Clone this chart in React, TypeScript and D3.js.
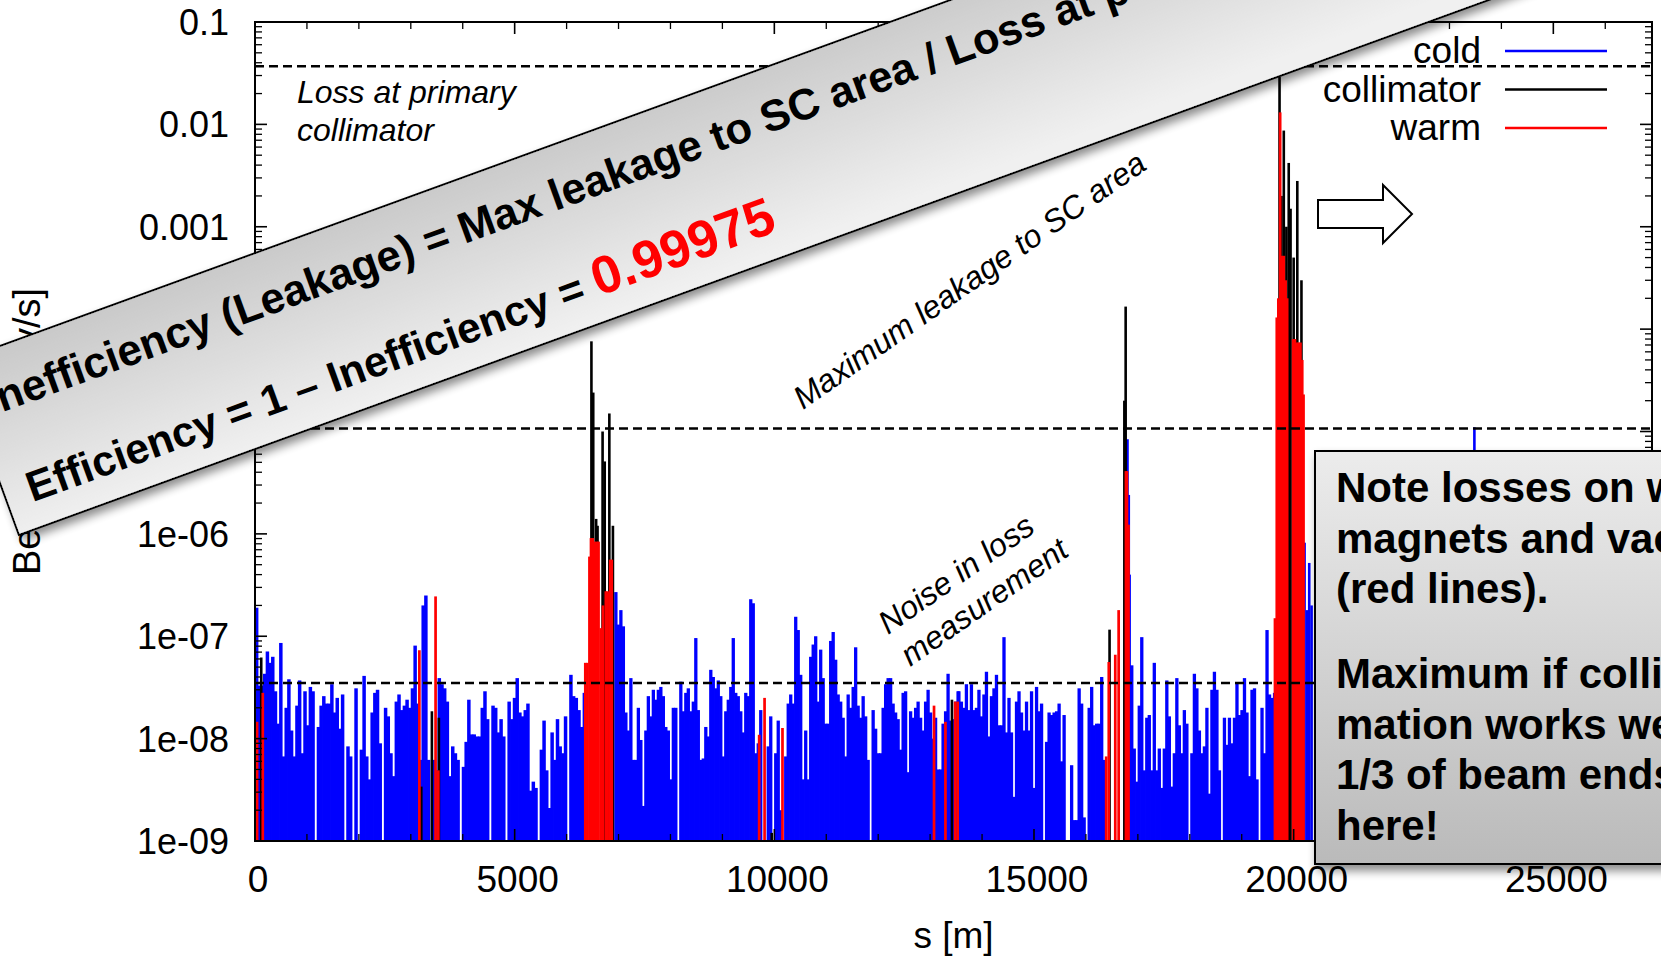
import React from 'react';
import * as d3 from 'd3';

// ---------------- data ----------------
const X_DOMAIN: [number, number] = [0, 26900];
const Y_DOMAIN: [number, number] = [1e-9, 0.1];
const xTickValues = [0, 5000, 10000, 15000, 20000, 25000];
const yTickValues = [1e-9, 1e-8, 1e-7, 1e-6, 1e-5, 1e-4, 1e-3, 1e-2, 1e-1];
const yTickLabels = ['1e-09', '1e-08', '1e-07', '1e-06', '1e-05', '0.0001', '0.001', '0.01', '0.1'];

// cold (blue) BLM signal, regularly sampled segments between the cleaning insertions
const coldWestRange: [number, number] = [32, 6342];
const coldWest = [
  1.9e-7, 3.3e-8, 3.3e-8, 4.3e-8, 7.1e-8, 5.5e-8, 6.3e-8, 2.9e-8, 1.4e-8, 8.6e-8,
  6.7e-9, 2.0e-8, 3.8e-8, 1.2e-8, 6.7e-9, 2.1e-8, 3.7e-8, 7.2e-9, 2.9e-8, 1.35e-8,
  3.2e-8, 2.9e-8, 1e-9, 1.3e-8, 2.1e-8, 2.6e-8, 2.2e-8, 2.2e-8, 3.4e-8, 1.8e-8,
  2.5e-8, 1.25e-8, 2.7e-8, 1e-9, 8.4e-9, 6.7e-9, 1e-9, 3.1e-8, 1e-9, 7.8e-9,
  4.1e-8, 6.7e-9, 4.0e-9, 1.8e-8, 2.8e-8, 3.0e-8, 9e-9, 1e-9, 2.0e-8, 1.65e-8,
  7.2e-9, 4.3e-9, 2.3e-8, 2.7e-8, 1.9e-8, 2.1e-8, 2.4e-8, 2.0e-8, 3.1e-8, 8.1e-8,
  2.2e-8, 6.2e-9, 2.0e-7, 2.5e-7, 6.2e-9, 1e-9, 6.2e-9, 4.9e-9, 3.9e-8, 3.4e-8,
  3.1e-8, 2.3e-8, 4.3e-9, 8.4e-9, 7.2e-9, 6.2e-9, 1e-9, 5.3e-9, 9.3e-9, 2.4e-8,
  1.1e-8, 1.1e-8, 1.05e-8, 1.05e-8, 2.0e-8, 2.9e-8, 1.55e-8, 1e-9, 2.1e-8, 2.0e-8,
  1.15e-8, 1.55e-8, 1.05e-8, 1e-9, 2.3e-8, 1.55e-8, 2.5e-8, 3.9e-8, 1.8e-8, 1.65e-8,
  1.9e-8, 2.2e-8, 3.1e-9, 3.8e-9, 3.3e-9, 1e-9, 7.8e-9, 1.5e-8, 4.9e-9, 2.1e-9,
  1.15e-8, 6.2e-9, 1.55e-8, 8.4e-9, 7.2e-9, 1.65e-8, 1e-9, 4.2e-8, 2.6e-8, 2.5e-8,
  1.9e-8, 1.3e-8, 2.8e-8,
];
const coldMidRange: [number, number] = [6949, 13538];
const coldMid = [
  2.7e-7, 1.3e-7, 1.8e-7, 1.25e-7, 1.8e-8, 1.2e-8, 3.9e-8, 6.2e-9, 6.2e-9, 2.0e-8,
  9.7e-9, 2.2e-9, 1.2e-8, 2.6e-8, 1.65e-8, 3.0e-8, 2.4e-8, 3.0e-8, 3.2e-8, 2.6e-8,
  1.3e-8, 1.2e-8, 4.0e-9, 2.0e-8, 2.0e-8, 1e-9, 3.6e-8, 1.85e-8, 2.8e-8, 3.1e-8,
  1.85e-8, 2.3e-8, 9.6e-8, 1.9e-8, 6.2e-9, 6.4e-9, 1.3e-8, 1.05e-8, 4.7e-8, 4.0e-8,
  3.1e-8, 3.7e-8, 2.6e-8, 6.7e-9, 1.85e-8, 2.4e-8, 3.2e-8, 9.6e-8, 2.8e-8, 2.6e-8,
  1.85e-8, 1.15e-8, 2.8e-8, 2.6e-8, 2.3e-7, 2.1e-7, 7.2e-9, 9e-9, 1.9e-8, 1e-9,
  1e-9, 8.4e-9, 1.65e-8, 1e-9, 7.2e-9, 1.5e-8, 2.0e-9, 1e-9, 6.7e-9, 2.2e-8,
  2.7e-8, 2.2e-8, 1.55e-7, 1.15e-7, 4.2e-8, 4.0e-9, 1.2e-8, 4.0e-9, 6.3e-8, 8.3e-8,
  1.0e-7, 2.3e-8, 7.4e-8, 3.9e-8, 1.4e-8, 1.4e-8, 9e-8, 1.1e-7, 5.9e-8, 2.7e-8,
  2.3e-8, 1.6e-8, 6.7e-9, 2.7e-8, 2.0e-8, 3.2e-8, 7.8e-8, 2.1e-8, 1.6e-8, 2.6e-8,
  1.65e-8, 6.2e-9, 1e-9, 1.9e-8, 1.25e-8, 7.2e-9, 7.2e-9, 2.0e-8, 3.4e-8, 3.9e-8,
  3.9e-8, 2.2e-8, 1.8e-8, 1.55e-8, 7.8e-9, 2.8e-8, 2.9e-8, 4.7e-9, 1.85e-8, 1.6e-8,
  2.0e-8, 2.3e-8, 1.6e-8, 1.2e-8, 2.3e-8, 3.0e-8, 1.8e-8, 1.0e-8, 1.6e-8, 5e-9,
  5e-9, 1.4e-8, 1.85e-8, 4.3e-8, 1.5e-8, 1.55e-8, 2.3e-8, 2.9e-8,
];
const coldEastRange: [number, number] = [13554, 19632];
const coldEast = [
  2.9e-8, 2.3e-8, 2.0e-8, 3.4e-8, 1.9e-8, 3.4e-8, 1.9e-8, 2.0e-8, 3.0e-8, 1.65e-8,
  2.7e-8, 4.5e-8, 1.05e-8, 2.6e-8, 3.1e-8, 4.2e-8, 1.35e-8, 1.35e-8, 9.8e-8, 1.15e-8,
  2.5e-8, 1.15e-8, 2.7e-9, 2.3e-8, 2.9e-8, 1.8e-8, 1.2e-8, 2.3e-8, 1.2e-8, 2.9e-8,
  3.3e-9, 3.2e-8, 1.85e-8, 2.2e-8, 1e-9, 9.3e-9, 1.8e-8, 1.7e-8, 1.8e-8, 1.85e-8,
  2.2e-8, 6e-9, 1.7e-8, 1e-9, 1e-9, 5.5e-9, 1.6e-9, 1.6e-9, 3.1e-8, 2.2e-8,
  1.7e-9, 1e-9, 2.0e-8, 3.2e-8, 1.35e-8, 1.4e-8, 1.4e-8, 4.0e-8, 6.2e-9, 1e-9,
  1e-9, 1e-9, 1e-9, 1e-9, 1e-9, 1e-9, 1e-9, 1e-9, 4e-7, 5.2e-8,
  8e-9, 3.8e-9, 2.1e-8, 9.8e-8, 4.9e-9, 1.6e-8, 1.7e-8, 4.9e-9, 5.5e-8, 4.9e-9,
  8e-9, 3.3e-9, 8e-9, 3.7e-8, 1.65e-8, 3.4e-9, 7.2e-9, 3.9e-8, 1.35e-8, 7.2e-9,
  1.9e-8, 1.4e-8, 1e-9, 7.2e-9, 4.3e-8, 3.1e-8, 1.2e-8, 7.2e-9, 8.4e-9, 2.0e-8,
  2.9e-9, 3.0e-8, 4.5e-8, 3.0e-8, 4.9e-9, 1e-9, 1.6e-8, 8.7e-9, 1.6e-8, 9e-9,
  1.6e-8, 3.5e-8, 1.7e-8, 1.9e-8, 3.9e-8, 1.8e-8, 4.3e-9, 3.0e-8, 3.1e-8, 4e-9,
  1e-9, 2.0e-8, 7.2e-9, 1.15e-7, 2.7e-8, 2.5e-8, 2.8e-8,
];
// isolated cold readings [s, signal]
const coldExtra: [number, number][] = [
  [16800, 8.4e-6], [16825, 2.4e-6], [20210, 8.2e-7], [20255, 1.8e-7],
  [20300, 5.2e-7], [20345, 2.0e-7], [23480, 1.1e-5],
];

// collimator (black) [s, signal]
const collimator: [number, number][] = [
  [120, 6.2e-8], [3202, 3.4e-9], [3406, 1.85e-8], [3541, 1.6e-8],
  [6478, 7.6e-5], [6513, 2.4e-5], [6569, 1.4e-6], [6596, 1.2e-6], [6693, 1.0e-5],
  [6734, 5.1e-6], [6823, 1.5e-5], [6892, 1.2e-6],
  [9950, 1.2e-9], [13420, 2.4e-8],
  [16455, 1.16e-7], [16740, 2.0e-5], [16765, 1.66e-4],
  [19728, 0.029], [19765, 2e-3], [19810, 8.7e-3], [19860, 1e-3], [19905, 4.2e-3],
  [19940, 1.5e-3], [20000, 5e-4], [20070, 2.8e-3], [20150, 3e-4],
];

// warm (red) [s, signal]
const warm: [number, number][] = [
  [40, 1.46e-8], [150, 2.8e-8], [3165, 7.3e-8], [3477, 2.45e-7], [3530, 4.9e-9],
  [6360, 5.5e-8], [6400, 5.5e-8], [6440, 6e-7], [6470, 9.1e-7], [6505, 9.1e-7],
  [6540, 8.4e-7], [6580, 8.4e-7], [6615, 8.4e-7], [6660, 1.2e-7], [6700, 2.0e-7],
  [6755, 2.75e-7], [6790, 2.75e-7], [6840, 5.6e-7], [6870, 5.6e-7],
  [9708, 1.09e-8], [9812, 2.5e-8], [10157, 1.27e-8],
  [13075, 2.1e-8], [13295, 1.46e-8], [13482, 2.3e-8], [13530, 2.3e-8],
  [16390, 6.7e-9], [16440, 5.6e-8], [16565, 6.6e-8], [16630, 1.8e-7],
  [16770, 4.1e-6], [16790, 4.1e-6], [16820, 1.23e-6],
  [19640, 1.5e-7], [19675, 1.3e-4], [19705, 2e-4], [19740, 0.0131], [19775, 5.2e-4],
  [19810, 5.2e-4], [19845, 3e-4], [19875, 2e-4], [19990, 8e-5], [20025, 8e-5],
  [20060, 7.4e-5], [20095, 7.4e-5], [20130, 7.4e-5], [20165, 5e-5], [20190, 2.3e-5],
];

// reference levels
const lossAtPrimary = 0.037;
const maxLeakage = 1.07e-5;
const noiseLevel = 3.5e-8;

const legendItems = [
  { label: 'cold', color: '#0000ff' },
  { label: 'collimator', color: '#000000' },
  { label: 'warm', color: '#ff0000' },
];

const noteTop = ['Note losses on warm', 'magnets and vacuum', '(red lines).'];
const noteBottom = ['Maximum if colli-', 'mation works well', '1/3 of beam ends', 'here!'];

// ---------------- layout ----------------
const W = 1661;
const H = 959;
const PL = 255, PR = 1652, PT = 22, PB = 841;
const FONT = "'Liberation Sans', Arial, Helvetica, sans-serif";

export default function App() {
  const x = d3.scaleLinear().domain(X_DOMAIN).range([PL, PR]);
  const y = d3.scaleLog().domain(Y_DOMAIN).range([PB, PT]);
  const yBase = y(Y_DOMAIN[0]);

  const bar = (s: number, v: number, w: number, color: string, key: string) => {
    if (v <= Y_DOMAIN[0]) return null;
    const top = y(Math.min(v, Y_DOMAIN[1]));
    return <rect key={key} x={x(s) - w / 2} y={top} width={w} height={yBase - top} fill={color} />;
  };

  const coldBars: any[] = [];
  const segs: [number[], [number, number]][] = [
    [coldWest, coldWestRange],
    [coldMid, coldMidRange],
    [coldEast, coldEastRange],
  ];
  segs.forEach(([vals, range], si) => {
    const step = (range[1] - range[0]) / (vals.length - 1);
    const w = x(step) - x(0) + 0.8;
    vals.forEach((v, i) => {
      coldBars.push(bar(range[0] + i * step, v, w, '#0000ff', `c${si}-${i}`));
    });
  });
  coldExtra.forEach(([s, v], i) => coldBars.push(bar(s, v, 2.6, '#0000ff', `ce${i}`)));

  const collBars = collimator.map(([s, v], i) => bar(s, v, 2.6, '#000000', `k${i}`));
  const warmBars = warm.map(([s, v], i) => bar(s, v, 2.7, '#ff0000', `w${i}`));

  // ticks
  const yMinor: number[] = [];
  for (let e = -9; e < -1; e++) {
    for (let m = 2; m <= 9; m++) yMinor.push(m * Math.pow(10, e));
  }
  const xMinor = d3.range(1000, 26901, 1000).filter((v) => v % 5000 !== 0);

  const dashed = [lossAtPrimary, maxLeakage, noiseLevel];

  // banner geometry (rotated ribbon)
  const bannerAngle = -20;
  const bannerX = -44;
  const bannerY = 362;
  const bannerH = 184;

  return (
    <svg
      width={W}
      height={H}
      viewBox={`0 0 ${W} ${H}`}
      style={{ position: 'absolute', left: 0, top: 0, display: 'block', background: '#fff' }}
      fontFamily={FONT}
    >
      <defs>
        <clipPath id="plotClip">
          <rect x={PL} y={PT} width={PR - PL} height={PB - PT} />
        </clipPath>
        <linearGradient id="bannerGrad" x1="0" y1="0" x2="0.15" y2="1">
          <stop offset="0" stopColor="#c9c9c9" />
          <stop offset="1" stopColor="#f0f0f0" />
        </linearGradient>
        <linearGradient id="boxGrad" x1="0" y1="0" x2="0" y2="1">
          <stop offset="0" stopColor="#ececec" />
          <stop offset="1" stopColor="#bababa" />
        </linearGradient>
        <filter id="shadow" x="-10%" y="-20%" width="130%" height="150%">
          <feDropShadow dx="3" dy="6" stdDeviation="5" floodColor="#000" floodOpacity="0.45" />
        </filter>
      </defs>

      <rect x={0} y={0} width={W} height={H} fill="#fff" />

      {/* data */}
      <g clipPath="url(#plotClip)">
        {coldBars}
        {collBars}
        {warmBars}
        {dashed.map((v, i) => (
          <line
            key={`d${i}`}
            x1={PL}
            x2={PR}
            y1={y(v)}
            y2={y(v)}
            stroke="#000"
            strokeWidth={2.4}
            strokeDasharray="9,5"
          />
        ))}
      </g>

      {/* frame */}
      <rect x={PL} y={PT} width={PR - PL} height={PB - PT} fill="none" stroke="#000" strokeWidth={2} />

      {/* y ticks */}
      {yTickValues.map((v) => (
        <g key={`yt${v}`}>
          <line x1={PL} x2={PL + 12} y1={y(v)} y2={y(v)} stroke="#000" strokeWidth={1.6} />
          <line x1={PR} x2={PR - 12} y1={y(v)} y2={y(v)} stroke="#000" strokeWidth={1.6} />
        </g>
      ))}
      {yMinor.map((v) => (
        <g key={`ym${v}`}>
          <line x1={PL} x2={PL + 7} y1={y(v)} y2={y(v)} stroke="#000" strokeWidth={1.3} />
          <line x1={PR} x2={PR - 7} y1={y(v)} y2={y(v)} stroke="#000" strokeWidth={1.3} />
        </g>
      ))}
      {yTickValues.map((v, i) => (
        <text key={`yl${v}`} x={229} y={y(v)} dy="0.36em" textAnchor="end" fontSize={36} fill="#000">
          {yTickLabels[i]}
        </text>
      ))}

      {/* x ticks */}
      {xTickValues.map((v) => (
        <g key={`xt${v}`}>
          <line x1={x(v)} x2={x(v)} y1={PB} y2={PB - 12} stroke="#000" strokeWidth={1.6} />
          <line x1={x(v)} x2={x(v)} y1={PT} y2={PT + 12} stroke="#000" strokeWidth={1.6} />
          <text x={x(v) + 3} y={892} textAnchor="middle" fontSize={37} fill="#000">
            {v}
          </text>
        </g>
      ))}
      {xMinor.map((v) => (
        <g key={`xm${v}`}>
          <line x1={x(v)} x2={x(v)} y1={PB} y2={PB - 7} stroke="#000" strokeWidth={1.3} />
          <line x1={x(v)} x2={x(v)} y1={PT} y2={PT + 7} stroke="#000" strokeWidth={1.3} />
        </g>
      ))}

      {/* axis titles */}
      <text x={(PL + PR) / 2} y={948} textAnchor="middle" fontSize={37} fill="#000">
        s [m]
      </text>
      <text
        transform={`translate(40, ${(PT + PB) / 2}) rotate(-90)`}
        textAnchor="middle"
        fontSize={38}
        fill="#000"
      >
        Beam loss [Gy/s]
      </text>

      {/* legend */}
      {legendItems.map((it, i) => (
        <g key={it.label}>
          <text x={1481} y={63 + i * 38.5} textAnchor="end" fontSize={37} fill="#000">
            {it.label}
          </text>
          <line x1={1505} x2={1607} y1={51 + i * 38.5} y2={51 + i * 38.5} stroke={it.color} strokeWidth={2.5} />
        </g>
      ))}

      {/* annotations */}
      <text x={297} y={103} fontSize={32} fontStyle="italic" fill="#000">
        Loss at primary
      </text>
      <text x={297} y={141} fontSize={32} fontStyle="italic" fill="#000">
        collimator
      </text>
      <text transform="translate(803, 410) rotate(-35)" fontSize={32} fontStyle="italic" fill="#000">
        Maximum leakage to SC area
      </text>
      <g transform="translate(888, 635) rotate(-35)" fontSize={32} fontStyle="italic" fill="#000">
        <text x={0} y={0}>Noise in loss</text>
        <text x={0} y={39}>measurement</text>
      </g>

      {/* arrow */}
      <polygon
        points="1318,200 1383,200 1383,185 1412,214 1383,243 1383,228 1318,228"
        fill="#fff"
        stroke="#000"
        strokeWidth={2}
      />

      {/* banner */}
      <g transform={`translate(${bannerX}, ${bannerY}) rotate(${bannerAngle})`}>
        <rect
          x={0}
          y={0}
          width={1900}
          height={bannerH}
          fill="url(#bannerGrad)"
          stroke="#000"
          strokeWidth={2}
          filter="url(#shadow)"
        />
        <text x={14} y={63} fontSize={43.5} fontWeight="bold" fill="#000">
          Inefficiency (Leakage) = Max leakage to SC area / Loss at primary collimator
        </text>
        <text x={24} y={158} fontSize={42.5} fontWeight="bold" fill="#000">
          {'Efficiency = 1 \u2013 Inefficiency = '}
          <tspan fill="#ff0000" fontSize={53}>
            0.99975
          </tspan>
        </text>
      </g>

      {/* note box */}
      <g>
        <rect
          x={1315}
          y={451}
          width={420}
          height={413}
          fill="url(#boxGrad)"
          stroke="#000"
          strokeWidth={2}
          filter="url(#shadow)"
        />
        {noteTop.map((t, i) => (
          <text key={`nt${i}`} x={1336} y={502 + i * 50.5} fontSize={42} fontWeight="bold" fill="#000">
            {t}
          </text>
        ))}
        {noteBottom.map((t, i) => (
          <text key={`nb${i}`} x={1336} y={688 + i * 50.5} fontSize={42} fontWeight="bold" fill="#000">
            {t}
          </text>
        ))}
      </g>
    </svg>
  );
}
